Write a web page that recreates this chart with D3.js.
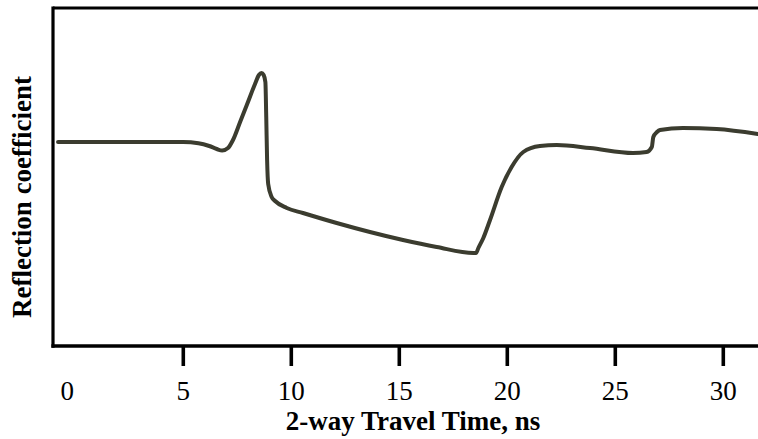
<!DOCTYPE html>
<html>
<head>
<meta charset="utf-8">
<script src="https://d3js.org/d3.v7.min.js"></script>
<style>
  body { margin: 0; background: white; }
  svg text { font-family: 'Liberation Serif', 'Times New Roman', serif; }
</style>
</head>
<body>
<svg id="chart"></svg>
<script>
// two-way travel time (ns) and reflection coefficient (arbitrary units)
var times = [-0.8, 2.0, 5.0, 5.7, 6.2, 6.55, 6.8, 7.07, 7.3, 7.63, 7.94, 8.32, 8.5, 8.62, 8.72, 8.8, 8.84, 8.88, 8.93,
             9.09, 9.25, 9.79, 10.54, 12.1, 13.64, 15.17, 16.73, 18.43, 18.55, 18.66, 18.89, 19.2, 19.74,
             20.2, 20.74, 21.51, 22.29, 23.83, 25.82, 26.45, 26.69, 26.76, 26.93, 27.07, 28.13, 29.69, 31.6];
var refl  = [0, 0, 0, -0.012, -0.04, -0.07, -0.085, -0.06, 0.02, 0.2, 0.37, 0.58, 0.67, 0.69, 0.67, 0.6, 0.25, -0.18, -0.42,
             -0.55, -0.59, -0.66, -0.71, -0.81, -0.9, -0.98, -1.05, -1.11, -1.11, -1.06, -0.96, -0.78, -0.45,
             -0.25, -0.1, -0.04, -0.03, -0.06, -0.11, -0.1, -0.05, 0.05, 0.1, 0.12, 0.14, 0.13, 0.08];
var tickVals = [0, 5, 10, 15, 20, 25, 30];

(function() {
var width = 758, height = 439;
var svg = d3.select("#chart").attr("width", width).attr("height", height);

var plotLeft = 53, plotTop = 8, plotBottom = 346;

var x = d3.scaleLinear().domain([0, 30]).range([75.3, 723.3]);
var y = d3.scaleLinear().domain([-2.04, 1.34]).range([plotBottom, plotTop]);

// frame: top and left lines
svg.append("line")
  .attr("x1", plotLeft).attr("x2", width).attr("y1", plotTop).attr("y2", plotTop)
  .attr("stroke", "#000").attr("stroke-width", 3.2);
svg.append("line")
  .attr("x1", plotLeft).attr("x2", plotLeft).attr("y1", plotTop - 1.6).attr("y2", plotBottom + 1.8)
  .attr("stroke", "#000").attr("stroke-width", 3.2);

// x axis
var xAxis = svg.append("g")
  .attr("transform", "translate(0," + plotBottom + ")");
xAxis.append("line")
  .attr("x1", plotLeft - 1.6).attr("x2", width).attr("y1", 0).attr("y2", 0)
  .attr("stroke", "#000").attr("stroke-width", 3.6);
xAxis.selectAll(".tick").data(tickVals.filter(function(d) { return d > 0; }))
  .enter().append("line")
  .attr("x1", function(d) { return x(d); })
  .attr("x2", function(d) { return x(d); })
  .attr("y1", 0).attr("y2", 20)
  .attr("stroke", "#000").attr("stroke-width", 3.6);
xAxis.selectAll(".lbl").data(tickVals)
  .enter().append("text")
  .attr("x", function(d) { return d === 0 ? x(d) - 8 : x(d); })
  .attr("y", 54)
  .attr("text-anchor", "middle")
  .attr("font-size", "27px")
  .text(function(d) { return d; });

svg.append("text")
  .attr("x", 413).attr("y", 430)
  .attr("text-anchor", "middle")
  .attr("font-size", "27px")
  .attr("font-weight", "bold")
  .text("2-way Travel Time, ns");

svg.append("text")
  .attr("transform", "translate(31,197) rotate(-90)")
  .attr("text-anchor", "middle")
  .attr("font-size", "27px")
  .attr("font-weight", "bold")
  .text("Reflection coefficient");

// curve
var pts = times.map(function(t, i) { return [t, refl[i]]; });
var line = d3.line()
  .x(function(d) { return x(d[0]); })
  .y(function(d) { return y(d[1]); })
  .curve(d3.curveMonotoneX);

svg.append("path")
  .datum(pts)
  .attr("d", line)
  .attr("fill", "none")
  .attr("stroke", "#3b3c2f")
  .attr("stroke-width", 4)
  .attr("stroke-linejoin", "round")
  .attr("stroke-linecap", "round");
})();
</script>
</body>
</html>
